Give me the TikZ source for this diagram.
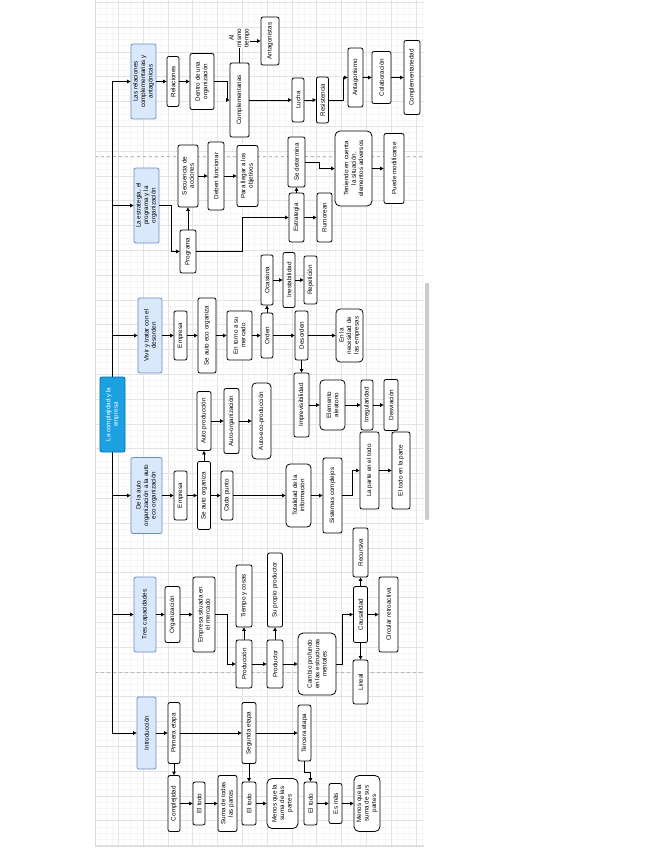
\documentclass[tikz,border=0pt]{standalone}
\usepackage{fontspec}
\setmainfont{Liberation Sans}
\usetikzlibrary{arrows.meta}
\definecolor{bluefill}{HTML}{DAE8FC}
\definecolor{blueline}{HTML}{6C8EBF}
\definecolor{rootfill}{HTML}{1BA1E2}
\definecolor{rootline}{HTML}{006EAF}
\begin{document}
\begin{tikzpicture}[x=1pt,y=-1pt,
  bx/.style={draw=black, line width=0.8pt, fill=white, rounded corners=2pt, rotate=90, align=center, inner sep=0.8pt, font=\fontsize{6.3}{7.4}\selectfont},
  lone/.style={bx, fill=bluefill, draw=blueline},
  rootbox/.style={bx, fill=rootfill, draw=rootline, text=white},
  arr/.style={line width=0.8pt, -{Triangle[length=3.5pt,width=3.5pt]}},
  lbl/.style={rotate=90, align=center, font=\fontsize{6.3}{7.4}\selectfont, fill=white, inner sep=0.5pt},
  gminor/.style={black!3.5, line width=0.3pt},
  gmajor/.style={black!11, line width=0.4pt}
]
\useasboundingbox (0,0) rectangle (655,848);
\fill[white] (0,0) rectangle (655,848);
% grid
\begin{scope}
\clip (95,0) rectangle (424,846);
\foreach \i in {0,...,55} \draw[gminor] ({93.3+6.2*\i},0) -- ({93.3+6.2*\i},848);
\foreach \i in {0,...,141} \draw[gminor] (95,{-22.6+6.2*\i}) -- (425,{-22.6+6.2*\i});
\foreach \i in {0,...,14} \draw[gmajor] ({93.3+24.8*\i},0) -- ({93.3+24.8*\i},848);
\foreach \i in {0,...,35} \draw[gmajor] (95,{-22.6+24.8*\i}) -- (425,{-22.6+24.8*\i});
\draw[black!28, dashed, line width=0.6pt] (95,156) -- (425,156);
\draw[black!28, dashed, line width=0.6pt] (95,672) -- (425,672);
\end{scope}
\draw[black!15, line width=0.5pt] (95,0) -- (95,846) -- (424,846);
\fill[black!20, rounded corners=1pt] (425,283) rectangle (429,520);

% trunk
\coordinate (t1) at (112,81.5);
\coordinate (t2) at (112,205.5);
\coordinate (t3) at (112,335.5);
\coordinate (t4) at (112,495.5);
\coordinate (t5) at (112,614.5);
\coordinate (t6) at (112,733);
\draw[line width=0.8pt] (t1) -- (t6);

% root
\node[rootbox, minimum width=75pt, minimum height=25pt] (root) at (112.5,414.5) {La complejidad y la\\empresa};

% level 1
\node[lone, minimum width=75pt, minimum height=25pt] (rel) at (143.5,81.5) {Las relaciones\\complementarias y\\antagónicas};
\node[lone, minimum width=75pt, minimum height=25pt] (estr) at (146.5,205.5) {La estrategia, el\\programa y la\\organización};
\node[lone, minimum width=75pt, minimum height=24pt] (vivir) at (150,335.5) {Vivir y tratar con el\\desorden};
\node[lone, minimum width=76pt, minimum height=31pt] (auto) at (146.5,495.5) {De la auto\\organización a la auto\\eco organización};
\node[lone, minimum width=75pt, minimum height=22pt] (tres) at (145,614.5) {Tres capacidades};
\node[lone, minimum width=72pt, minimum height=19pt] (intro) at (146.5,733) {Introducción};

% branch 6
\node[bx, minimum width=50pt, minimum height=12pt] (relac) at (173,81.5) {Relaciones};
\node[bx, minimum width=56pt, minimum height=24pt] (dentro) at (202,81.5) {Dentro de una\\organización};
\node[bx, minimum width=74pt, minimum height=19pt] (compl) at (239.5,100) {Complementarias};
\node[bx, minimum width=48pt, minimum height=18pt] (antag) at (270,41) {Antagonistas};
\node[bx, minimum width=44pt, minimum height=12pt] (lucha) at (298,100) {Lucha};
\node[bx, minimum width=46pt, minimum height=12pt] (resis) at (322.5,100) {Resistencia};
\node[bx, minimum width=59pt, minimum height=15pt] (antagon) at (355.5,77.5) {Antagonismo};
\node[bx, minimum width=52pt, minimum height=19pt] (colab) at (381.5,77.5) {Colaboración};
\node[bx, minimum width=74pt, minimum height=16pt] (complem) at (412,77.5) {Complementariedad};

% branch 5
\node[bx, minimum width=43pt, minimum height=16pt] (prog) at (188,251.5) {Programa};
\node[bx, minimum width=62pt, minimum height=20pt] (secu) at (188,176) {Secuencia de\\acciones};
\node[bx, minimum width=68pt, minimum height=16pt] (deben) at (216,176) {Deben funcionar};
\node[bx, minimum width=61pt, minimum height=21pt] (para) at (247.5,176) {Para llegar a los\\objetivos};
\node[bx, minimum width=49pt, minimum height=15pt] (estrat) at (296.5,217.5) {Estrategia};
\node[bx, minimum width=50pt, minimum height=17pt] (sedet) at (296.5,162) {Se determina};
\node[bx, minimum width=49pt, minimum height=15pt] (rumor) at (324.5,217.5) {Rumorean};
\node[bx, rounded corners=5pt, minimum width=75pt, minimum height=37pt] (tenien) at (353.5,168.5) {Teniendo en cuenta\\la situación,\\elementos adversos};
\node[bx, minimum width=70pt, minimum height=20pt] (puede) at (394,168.5) {Puede modificarse};

% branch 4
\node[bx, minimum width=49pt, minimum height=13pt] (emp1) at (180.5,335.5) {Empresa};
\node[bx, minimum width=75pt, minimum height=18pt] (seauto) at (207,335.5) {Se auto eco organiza};
\node[bx, minimum width=49pt, minimum height=25pt] (entorno) at (239.5,335.5) {En torno a su\\mercado};
\node[bx, minimum width=45pt, minimum height=12pt] (orden) at (267,335.5) {Orden};
\node[bx, minimum width=50pt, minimum height=12pt] (ocas) at (267,280) {Ocasiona};
\node[bx, minimum width=55pt, minimum height=12pt] (inest) at (289,280) {Inestabilidad};
\node[bx, minimum width=48pt, minimum height=13pt] (repet) at (310.5,280) {Repetición};
\node[bx, minimum width=49pt, minimum height=13pt] (desord) at (301.5,335.5) {Desorden};
\node[bx, rounded corners=4pt, minimum width=53pt, minimum height=27pt] (necesid) at (349.5,335.5) {En la\\necesidad de\\las empresas};
\node[bx, minimum width=64pt, minimum height=15pt] (imprev) at (301.5,405) {Imprevisibilidad};
\node[bx, rounded corners=4pt, minimum width=50pt, minimum height=25pt] (aleat) at (332.5,405) {Elemento\\aleatorio};
\node[bx, minimum width=50pt, minimum height=12pt] (irreg) at (367,405) {Irregularidad};
\node[bx, minimum width=51pt, minimum height=14pt] (desv) at (391,405) {Desviación};

% branch 3
\node[bx, minimum width=49pt, minimum height=13pt] (emp2) at (180.5,495.5) {Empresa};
\node[bx, minimum width=68pt, minimum height=13pt] (seorg) at (204,495.5) {Se auto organiza};
\node[bx, minimum width=59pt, minimum height=14pt] (autoprod) at (204,421) {Auto producción};
\node[bx, minimum width=65pt, minimum height=15pt] (autoorg) at (231.5,421) {Auto-organización};
\node[bx, rounded corners=4pt, minimum width=76pt, minimum height=19pt] (autoeco) at (261.5,421) {Auto-eco-producción};
\node[bx, minimum width=49pt, minimum height=12pt] (cada) at (227,495.5) {Cada punto};
\node[bx, rounded corners=4pt, minimum width=63pt, minimum height=25pt] (total) at (298.5,495.5) {Totalidad de la\\información};
\node[bx, minimum width=75pt, minimum height=19pt] (sist) at (332.5,495.5) {Sistemas complejos};
\node[bx, minimum width=77pt, minimum height=19pt] (parte) at (369.5,470.5) {La parte en el todo};
\node[bx, minimum width=77pt, minimum height=18pt] (todo) at (401,470.5) {El todo en la parte};

% branch 2
\node[bx, minimum width=56pt, minimum height=15pt] (org) at (172.5,614.5) {Organización};
\node[bx, minimum width=75pt, minimum height=22pt] (empsit) at (204,614.5) {Empresa situada en\\el mercado};
\node[bx, minimum width=48pt, minimum height=16pt] (prod) at (244,664) {Producción};
\node[bx, minimum width=62pt, minimum height=16pt] (tiempo) at (244,596) {Tiempo y cosas};
\node[bx, minimum width=48pt, minimum height=16pt] (prodr) at (275,664) {Productor};
\node[bx, minimum width=74pt, minimum height=15pt] (propio) at (275,590) {Su propio productor};
\node[bx, rounded corners=5pt, minimum width=62pt, minimum height=38pt] (cambio) at (317,664) {Cambio profundo\\en las estructuras\\mentales};
\node[bx, minimum width=56pt, minimum height=14pt] (causal) at (360.5,614.5) {Causalidad};
\node[bx, minimum width=49pt, minimum height=15pt] (recur) at (360.5,552.5) {Recursiva};
\node[bx, minimum width=44pt, minimum height=15pt] (lineal) at (360.5,682) {Lineal};
\node[bx, minimum width=75pt, minimum height=19pt] (circ) at (388.5,614.5) {Circular retroactiva};

% branch 1
\node[bx, minimum width=61pt, minimum height=12pt] (prim) at (174,733) {Primera etapa};
\node[bx, minimum width=61pt, minimum height=14pt] (seg) at (249,733) {Segunda etapa};
\node[bx, minimum width=56pt, minimum height=13pt] (terc) at (304.5,733) {Tercera etapa};
\node[bx, minimum width=56pt, minimum height=12pt] (compx) at (174,803.5) {Complejidad};
\node[bx, minimum width=43pt, minimum height=12pt] (todo1) at (199,803.5) {El todo};
\node[bx, minimum width=56pt, minimum height=19pt] (suma) at (227.5,803.5) {Suma de todas\\las partes};
\node[bx, minimum width=43pt, minimum height=14pt] (todo2) at (249,803.5) {El todo};
\node[bx, rounded corners=5pt, minimum width=50pt, minimum height=31pt] (menos) at (282.5,803.5) {Menos que la\\suma de las\\partes};
\node[bx, minimum width=43pt, minimum height=13pt] (todo3) at (310.5,803.5) {El todo};
\node[bx, minimum width=40pt, minimum height=13pt] (esmas) at (335.5,803.5) {Es más};
\node[bx, rounded corners=5pt, minimum width=56pt, minimum height=26pt] (menos2) at (367,803.5) {Menos que la\\suma de sus\\partes};

% connectors branch 6
\draw[arr] (t1) -- (rel);
\draw[arr] (rel) -- (relac);
\draw[arr] (relac) -- (dentro);
\draw[arr] (dentro) -- (227,81.5) |- (compl);
\draw[arr] (compl) |- (antag);
\node[lbl] (almismo) at (239.5,38) {Al\\mismo\\tiempo};
\draw[arr] (compl) -- (lucha);
\draw[arr] (lucha) -- (resis);
\draw[arr] (resis) -- (343,100) |- (antagon);
\draw[arr] (antagon) -- (colab);
\draw[arr] (colab) -- (complem);

% branch 5
\draw[arr] (t2) -- (estr);
\draw[arr] (estr) -- (171,205.5) |- (prog);
\draw[arr] (prog) -- (secu);
\draw[arr] (secu) -- (deben);
\draw[arr] (deben) -- (para);
\draw[arr] (prog) -- (242,251.5) |- (estrat);
\draw[arr] (estrat) -- (sedet);
\draw[arr] (estrat) -- (rumor);
\draw[arr] (sedet) -- (319,162) |- (tenien);
\draw[arr] (tenien) -- (puede);

% branch 4
\draw[arr] (t3) -- (vivir);
\draw[arr] (vivir) -- (emp1);
\draw[arr] (emp1) -- (seauto);
\draw[arr] (seauto) -- (entorno);
\draw[arr] (entorno) -- (orden);
\draw[arr] (orden) -- (ocas);
\draw[arr] (ocas) -- (inest);
\draw[arr] (inest) -- (repet);
\draw[arr] (orden) -- (desord);
\draw[arr] (desord) -- (necesid);
\draw[arr] (desord) -- (imprev);
\draw[arr] (imprev) -- (aleat);
\draw[arr] (aleat) -- (irreg);
\draw[arr] (irreg) -- (desv);

% branch 3
\draw[arr] (t4) -- (auto);
\draw[arr] (auto) -- (emp2);
\draw[arr] (emp2) -- (seorg);
\draw[arr] (seorg) -- (autoprod);
\draw[arr] (autoprod) -- (autoorg);
\draw[arr] (autoorg) -- (autoeco);
\draw[arr] (seorg) -- (cada);
\draw[arr] (cada) -- (total);
\draw[arr] (total) -- (sist);
\draw[arr] (sist) -- (352,495.5) |- (parte);
\draw[arr] (parte) -- (todo);

% branch 2
\draw[arr] (t5) -- (tres);
\draw[arr] (tres) -- (org);
\draw[arr] (org) -- (empsit);
\draw[arr] (empsit) -- (227,614.5) |- (prod);
\draw[arr] (prod) -- (tiempo);
\draw[arr] (prod) -- (prodr);
\draw[arr] (prodr) -- (propio);
\draw[arr] (prodr) -- (cambio);
\draw[arr] (cambio) -- (342,664) |- (causal);
\draw[arr] (causal) -- (recur);
\draw[arr] (causal) -- (lineal);
\draw[arr] (causal) -- (circ);

% branch 1
\draw[arr] (t6) -- (intro);
\draw[arr] (intro) -- (prim);
\draw[arr] (prim) -- (seg);
\draw[arr] (seg) -- (terc);
\draw[arr] (prim) -- (compx);
\draw[arr] (compx) -- (todo1);
\draw[arr] (todo1) -- (suma);
\draw[arr] (seg) -- (todo2);
\draw[arr] (todo2) -- (menos);
\draw[arr] (terc) -- (304.5,772) -| (todo3);
\draw[arr] (todo3) -- (esmas);
\draw[arr] (esmas) -- (menos2);
\end{tikzpicture}
\end{document}
